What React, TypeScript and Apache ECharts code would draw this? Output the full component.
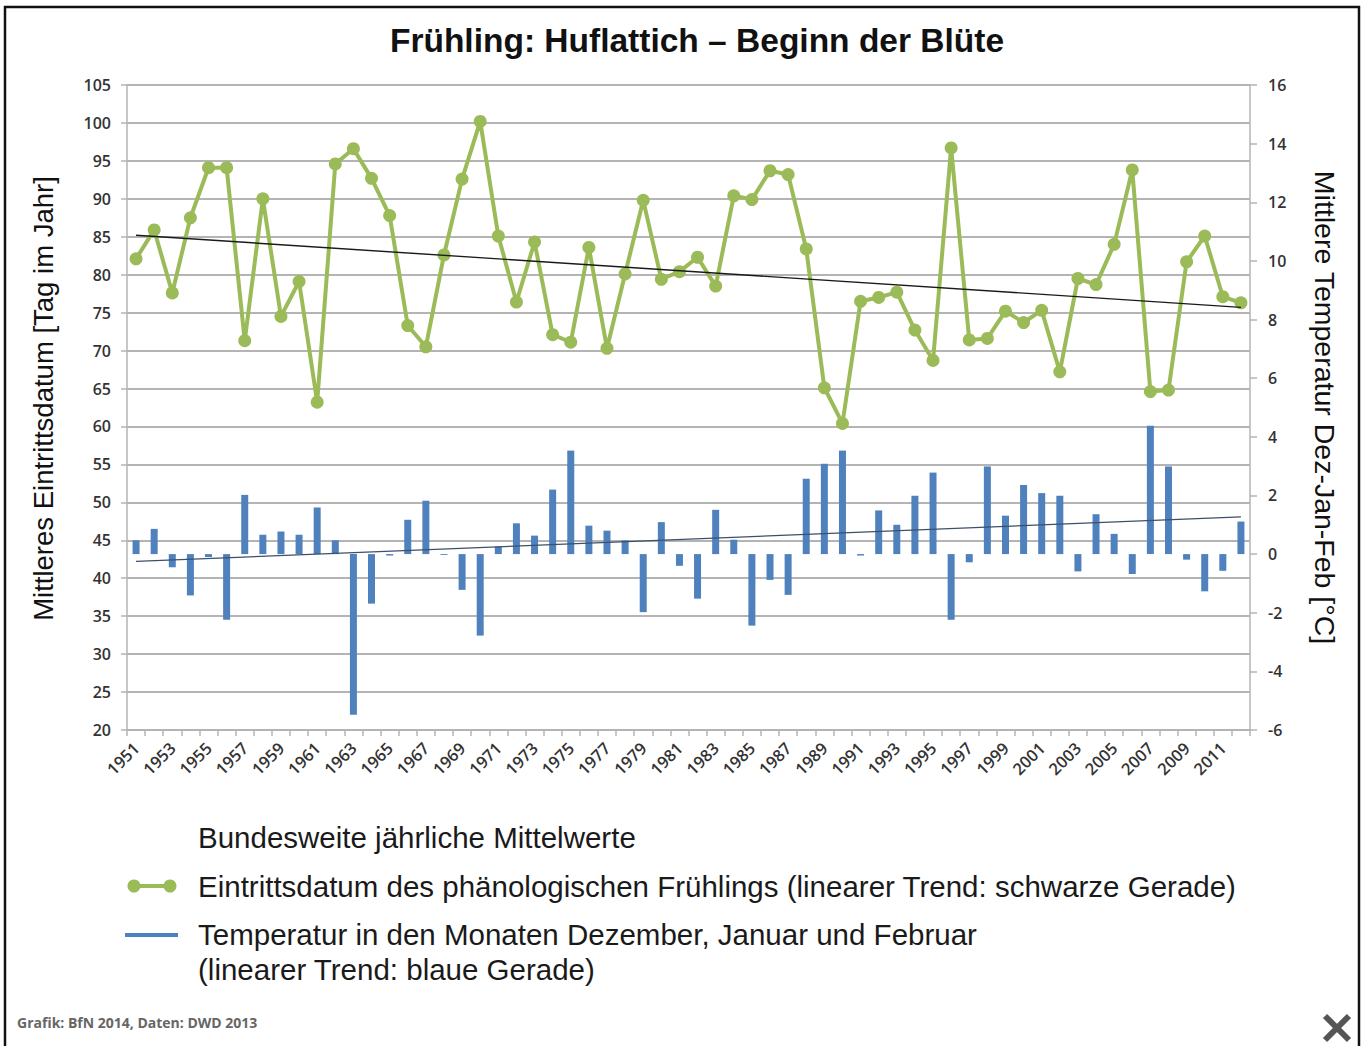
import React, { useEffect, useRef } from "react";
import * as echarts from "echarts";

const years = [
  "1951","1952","1953","1954","1955","1956","1957","1958","1959","1960",
  "1961","1962","1963","1964","1965","1966","1967","1968","1969","1970",
  "1971","1972","1973","1974","1975","1976","1977","1978","1979","1980",
  "1981","1982","1983","1984","1985","1986","1987","1988","1989","1990",
  "1991","1992","1993","1994","1995","1996","1997","1998","1999","2000",
  "2001","2002","2003","2004","2005","2006","2007","2008","2009","2010",
  "2011","2012",
];

// Mittleres Eintrittsdatum (Tag im Jahr)
const bloomDay = [
  82.1, 85.9, 77.6, 87.5, 94.1, 94.1, 71.3, 90.0, 74.5, 79.1,
  63.2, 94.6, 96.6, 92.7, 87.8, 73.3, 70.5, 82.6, 92.6, 100.2,
  85.1, 76.4, 84.3, 72.1, 71.1, 83.6, 70.3, 80.1, 89.8, 79.4,
  80.4, 82.3, 78.5, 90.4, 89.9, 93.7, 93.2, 83.4, 65.1, 60.4,
  76.5, 77.0, 77.7, 72.7, 68.7, 96.7, 71.4, 71.6, 75.2, 73.7,
  75.3, 67.2, 79.5, 78.7, 84.0, 93.8, 64.6, 64.8, 81.7, 85.1,
  77.1, 76.3,
];

// Mittlere Temperatur Dez-Jan-Feb (°C)
const winterTemp = [
  0.47, 0.86, -0.45, -1.41, -0.1, -2.24, 2.02, 0.66, 0.77, 0.66,
  1.59, 0.47, -5.48, -1.69, -0.05, 1.17, 1.82, -0.03, -1.22, -2.78,
  0.26, 1.05, 0.63, 2.2, 3.53, 0.97, 0.8, 0.47, -1.98, 1.09,
  -0.4, -1.52, 1.51, 0.49, -2.44, -0.88, -1.39, 2.57, 3.08, 3.53,
  -0.05, 1.49, 1.0, 1.99, 2.78, -2.24, -0.28, 2.99, 1.31, 2.36,
  2.08, 1.99, -0.59, 1.36, 0.69, -0.68, 4.38, 2.99, -0.19, -1.27,
  -0.57, 1.11,
];

// Linear trends (start 1951, end 2012)
const bloomTrend = [85.2, 75.7];
const tempTrend = [-0.25, 1.27];

const title = "Frühling: Huflattich – Beginn der Blüte";
const leftAxisName = "Mittleres Eintrittsdatum [Tag im Jahr]";
const rightAxisName = "Mittlere Temperatur Dez-Jan-Feb [°C]";
const legendHeading = "Bundesweite jährliche Mittelwerte";
const legendBloom = "Eintrittsdatum des phänologischen Frühlings (linearer Trend: schwarze Gerade)";
const legendTemp1 = "Temperatur in den Monaten Dezember, Januar und Februar";
const legendTemp2 = "(linearer Trend: blaue Gerade)";
const footer = "Grafik: BfN 2014, Daten: DWD 2013";

const GREEN = "#9bbb59";
const BLUE = "#4f81bd";
const GRID = "#b4b4b4";
const LABEL = "#333333";

export default function App() {
  const ref = useRef<HTMLDivElement>(null);

  useEffect(() => {
    if (!ref.current) return;
    const chart = echarts.init(ref.current, null, { renderer: "svg" });
    const first = years[0];
    const last = years[years.length - 1];
    const tickFont = { fontFamily: "Open Sans", fontSize: 16, fontWeight: 600, color: LABEL };
    const legendFont = { fontFamily: "Liberation Sans", fontSize: 29.5, fill: "#1a1a1a", verticalAlign: "middle" };

    chart.setOption({
      animation: false,
      backgroundColor: "#ffffff",
      grid: { left: 127, right: 118, top: 85, bottom: 316, containLabel: false },
      xAxis: {
        type: "category",
        data: years,
        boundaryGap: true,
        axisLine: { show: true, onZero: false, lineStyle: { color: GRID, width: 1.5 } },
        axisTick: { show: true, interval: 0, length: 6, lineStyle: { color: GRID, width: 1.5 } },
        axisLabel: { ...tickFont, fontSize: 16.5, interval: 1, rotate: 45, margin: 15 },
        splitLine: { show: false },
      },
      yAxis: [
        {
          type: "value",
          min: 20,
          max: 105,
          interval: 5,
          position: "left",
          name: leftAxisName,
          nameLocation: "middle",
          nameRotate: 90,
          nameGap: 70,
          nameTextStyle: { fontFamily: "Liberation Sans", fontSize: 27.5, color: "#111", padding: [0, 0, 0, 18] },
          axisLine: { show: true, lineStyle: { color: GRID, width: 1.5 } },
          axisTick: { show: true, length: 6, lineStyle: { color: GRID, width: 1.5 } },
          axisLabel: { ...tickFont, margin: 16 },
          splitLine: { show: true, lineStyle: { color: GRID, width: 1.8 } },
        },
        {
          type: "value",
          min: -6,
          max: 16,
          interval: 2,
          position: "right",
          name: rightAxisName,
          nameLocation: "middle",
          nameRotate: -90,
          nameGap: 60,
          nameTextStyle: { fontFamily: "Liberation Sans", fontSize: 28.5, color: "#111" },
          axisLine: { show: true, lineStyle: { color: GRID, width: 1.5 } },
          axisTick: { show: true, length: 7, lineStyle: { color: GRID, width: 1.5 } },
          axisLabel: { ...tickFont, margin: 18 },
          splitLine: { show: false },
        },
      ],
      series: [
        {
          name: "Temperatur",
          type: "bar",
          yAxisIndex: 1,
          data: winterTemp,
          barWidth: 7,
          itemStyle: { color: BLUE },
          z: 2,
        },
        {
          name: "Temperaturtrend",
          type: "line",
          yAxisIndex: 1,
          data: [[first, tempTrend[0]], [last, tempTrend[1]]],
          showSymbol: false,
          symbol: "none",
          lineStyle: { color: "#3c5068", width: 1.3 },
          z: 3,
        },
        {
          name: "Eintrittsdatum",
          type: "line",
          yAxisIndex: 0,
          data: bloomDay,
          symbol: "circle",
          symbolSize: 13,
          showSymbol: true,
          showAllSymbol: true,
          lineStyle: { color: GREEN, width: 4 },
          itemStyle: { color: GREEN },
          z: 4,
        },
        {
          name: "Trend Eintrittsdatum",
          type: "line",
          yAxisIndex: 0,
          data: [[first, bloomTrend[0]], [last, bloomTrend[1]]],
          showSymbol: false,
          symbol: "none",
          lineStyle: { color: "#1a1a1a", width: 1.4 },
          z: 5,
        },
      ],
      graphic: [
        {
          type: "rect",
          shape: { x: 5, y: 7, width: 1354, height: 1060 },
          style: { fill: "none", stroke: "#111", lineWidth: 2.5 },
          silent: true,
        },
        {
          type: "text",
          x: 697,
          y: 40,
          style: {
            text: title,
            fontFamily: "Liberation Sans",
            fontWeight: "bold",
            fontSize: 33.5,
            fill: "#111",
            align: "center",
            verticalAlign: "middle",
          },
        },
        { type: "text", x: 198, y: 837, style: { text: legendHeading, ...legendFont } },
        {
          type: "line",
          shape: { x1: 128, y1: 886, x2: 176, y2: 886 },
          style: { stroke: GREEN, lineWidth: 4 },
        },
        { type: "circle", shape: { cx: 134, cy: 886, r: 6.5 }, style: { fill: GREEN } },
        { type: "circle", shape: { cx: 170, cy: 886, r: 6.5 }, style: { fill: GREEN } },
        { type: "text", x: 198, y: 886, style: { text: legendBloom, ...legendFont } },
        {
          type: "line",
          shape: { x1: 125, y1: 935, x2: 178, y2: 935 },
          style: { stroke: BLUE, lineWidth: 4 },
        },
        { type: "text", x: 198, y: 934, style: { text: legendTemp1, ...legendFont } },
        { type: "text", x: 198, y: 969, style: { text: legendTemp2, ...legendFont } },
        {
          type: "text",
          x: 17,
          y: 1022,
          style: { text: footer, fontFamily: "Open Sans", fontWeight: "bold", fontSize: 14, fill: "#666", verticalAlign: "middle" },
        },
        {
          type: "line",
          shape: { x1: 1325, y1: 1016, x2: 1349, y2: 1040 },
          style: { stroke: "#555", lineWidth: 6 },
        },
        {
          type: "line",
          shape: { x1: 1349, y1: 1016, x2: 1325, y2: 1040 },
          style: { stroke: "#555", lineWidth: 6 },
        },
      ],
    });

    return () => chart.dispose();
  }, []);

  return (
    <div
      ref={ref}
      style={{ position: "absolute", left: 0, top: 0, width: 1368, height: 1046 }}
    />
  );
}
